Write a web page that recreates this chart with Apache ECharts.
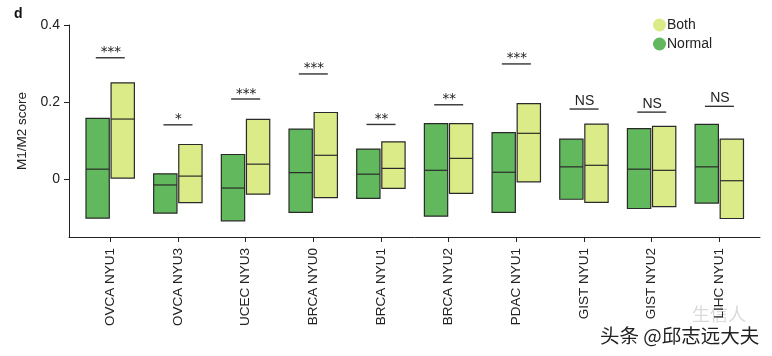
<!DOCTYPE html>
<html>
<head>
<meta charset="utf-8">
<script src="https://cdn.jsdelivr.net/npm/echarts@6/dist/echarts.min.js"></script>
<style>
html,body{margin:0;padding:0;background:#fff;}
#chart{width:772px;height:356px;}
</style>
</head>
<body>
<div id="chart"></div>
<script>
const categories = ['OVCA NYU1','OVCA NYU3','UCEC NYU3','BRCA NYU0','BRCA NYU1','BRCA NYU2','PDAC NYU1','GIST NYU1','GIST NYU2','LIHC NYU1'];
const normalMax = [0.158, 0.014, 0.064, 0.130, 0.078, 0.144, 0.121, 0.104, 0.131, 0.142];
const normalMin = [-0.101, -0.088, -0.108, -0.086, -0.050, -0.096, -0.086, -0.052, -0.076, -0.062];
const normalMed = [0.026, -0.015, -0.023, 0.017, 0.013, 0.023, 0.018, 0.032, 0.026, 0.032];
const bothMax = [0.250, 0.090, 0.155, 0.173, 0.097, 0.144, 0.196, 0.143, 0.137, 0.104];
const bothMin = [0.003, -0.061, -0.039, -0.048, -0.024, -0.037, -0.007, -0.060, -0.071, -0.102];
const bothMed = [0.156, 0.008, 0.039, 0.062, 0.028, 0.054, 0.119, 0.036, 0.023, -0.004];
const sigLevel = [0.315, 0.141, 0.208, 0.273, 0.142, 0.193, 0.299, 0.182, 0.174, 0.189];
const sigLabel = ['***','*','***','***','**','**','***','NS','NS','NS'];
const yTicks = [0, 0.2, 0.4];
const catIdx = categories.map((c, i) => i);

const NORMAL_COLOR = '#62b85d';
const BOTH_COLOR = '#dbeb88';
const EDGE = '#2a2a2a';
const FONT = '"Liberation Sans", Arial, sans-serif';

function boxRenderer(dx, w, color) {
  return function (params, api) {
    const x = api.value(0);
    const top = api.coord([x, api.value(2)]);
    const bot = api.coord([x, api.value(1)]);
    const med = api.coord([x, api.value(3)]);
    const x0 = top[0] + dx;
    return {
      type: 'group',
      children: [
        { type: 'rect', shape: { x: x0, y: top[1], width: w, height: bot[1] - top[1] },
          style: { fill: color, stroke: EDGE, lineWidth: 1.2 } },
        { type: 'line', shape: { x1: x0, y1: med[1], x2: x0 + w, y2: med[1] },
          style: { stroke: EDGE, lineWidth: 1.2 } }
      ]
    };
  };
}

function sigRenderer(params, api) {
  const x = api.value(0);
  const p = api.coord([x, api.value(1)]);
  const label = sigLabel[params.dataIndex];
  const isNS = label === 'NS';
  return {
    type: 'group',
    children: [
      { type: 'line', shape: { x1: p[0] - 14.5, y1: p[1], x2: p[0] + 14.5, y2: p[1] },
        style: { stroke: '#333', lineWidth: 1.4 } },
      { type: 'text', x: p[0] + 0.5, y: isNS ? p[1] - 1 : p[1] + 2,
        style: { text: label, fill: '#222', align: 'center', verticalAlign: 'bottom',
          font: isNS ? '14px ' + FONT : '13.5px "DejaVu Sans", sans-serif' } }
    ]
  };
}

const chart = echarts.init(document.getElementById('chart'), null, { renderer: 'canvas' });
chart.setOption({
  animation: false,
  backgroundColor: '#fff',
  grid: { left: 69, right: 12, top: 25, bottom: 119 },
  legend: {
    orient: 'vertical', left: 648, top: 13, itemWidth: 13, itemHeight: 13, itemGap: 5,
    icon: 'circle', data: ['Both', 'Normal'],
    textStyle: { fontFamily: FONT, fontSize: 14, color: '#222', padding: [0, 0, 0, -4] }
  },
  xAxis: {
    type: 'value', min: -0.61, max: 9.6,
    splitLine: { show: false },
    axisLine: { show: true, onZero: false, lineStyle: { color: '#222', width: 1 } },
    axisTick: { show: true, length: 5, customValues: catIdx, lineStyle: { color: '#222' } },
    axisLabel: {
      customValues: catIdx, rotate: 90, margin: 11,
      formatter: v => categories[Math.round(v)],
      fontFamily: FONT, fontSize: 13.5, color: '#222'
    }
  },
  yAxis: {
    type: 'value', min: -0.15, max: 0.4,
    name: 'M1/M2 score', nameLocation: 'middle', nameGap: 38,
    nameTextStyle: { fontFamily: FONT, fontSize: 13.5, color: '#222' },
    splitLine: { show: false },
    axisLine: { show: true, onZero: false, lineStyle: { color: '#222', width: 1 } },
    axisTick: { show: true, length: 5, customValues: yTicks, lineStyle: { color: '#222' } },
    axisLabel: {
      customValues: yTicks, margin: 9,
      fontFamily: FONT, fontSize: 14, color: '#222'
    }
  },
  graphic: [
    { type: 'text', left: 14, top: 7,
      style: { text: 'd', font: 'bold 14px ' + FONT, fill: '#111' } },
    { type: 'text', left: 692, top: 305,
      style: { text: '生信人', font: '18px "Noto Sans CJK SC"', fill: 'rgba(150,150,150,0.35)' } },
    { type: 'text', left: 599, top: 325,
      style: { text: '头条 @邱志远大夫', font: '19.5px "Noto Sans CJK SC"', fill: '#222', stroke: '#fff', lineWidth: 2 } }
  ],
  series: [
    {
      name: 'Normal', type: 'custom', itemStyle: { color: NORMAL_COLOR },
      renderItem: boxRenderer(-24.3, 23.3, NORMAL_COLOR),
      encode: { x: 0, y: [1, 2, 3] },
      data: catIdx.map(i => [i, normalMin[i], normalMax[i], normalMed[i]])
    },
    {
      name: 'Both', type: 'custom', itemStyle: { color: BOTH_COLOR },
      renderItem: boxRenderer(0.8, 23.3, BOTH_COLOR),
      encode: { x: 0, y: [1, 2, 3] },
      data: catIdx.map(i => [i, bothMin[i], bothMax[i], bothMed[i]])
    },
    {
      name: 'sig', type: 'custom',
      renderItem: sigRenderer,
      encode: { x: 0, y: 1 },
      data: catIdx.map(i => [i, sigLevel[i]])
    }
  ]
});
</script>
</body>
</html>
